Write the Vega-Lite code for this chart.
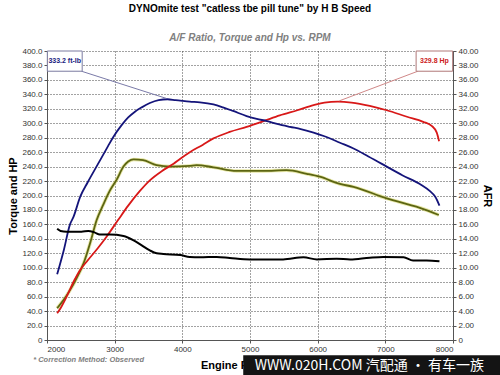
{
  "$schema": "https://vega.github.io/schema/vega-lite/v6.json",
  "width": 406,
  "height": 289,
  "autosize": "none",
  "padding": {"left": 47, "top": 51, "right": 47, "bottom": 35},
  "background": "white",
  "config": {
    "font": "Liberation Sans",
    "view": {"stroke": null},
    "axis": {
      "labelFont": "Liberation Sans",
      "labelFontSize": 8,
      "labelColor": "#333333",
      "labelOverlap": false,
      "domainColor": "#555555",
      "tickColor": "#555555",
      "tickSize": 3,
      "titleFont": "Liberation Sans",
      "titleFontSize": 11,
      "titleFontWeight": "bold",
      "titleColor": "#000000",
      "gridColor": "#444444",
      "gridDash": [1, 2],
      "gridWidth": 1,
      "gridOpacity": 1
    },
    "axisX": {"tickCount": 12, "labelOverlap": false, "labelBound": false}
  },
  "title": {
    "text": "DYNOmite test \"catless tbe pill tune\" by H B Speed",
    "subtitle": "A/F Ratio, Torque and Hp vs. RPM",
    "anchor": "middle",
    "frame": "group",
    "font": "Liberation Sans",
    "fontSize": 10,
    "fontWeight": "bold",
    "color": "#000000",
    "subtitleFont": "Liberation Sans",
    "subtitleFontSize": 10,
    "subtitleFontWeight": "bold",
    "subtitleFontStyle": "italic",
    "subtitleColor": "#808080",
    "subtitlePadding": 19,
    "offset": 4
  },
  "datasets": {
    "curves": [
      {"series": "TQ", "rpm": 2150, "value": 91},
      {"series": "TQ", "rpm": 2250, "value": 125},
      {"series": "TQ", "rpm": 2340, "value": 160},
      {"series": "TQ", "rpm": 2390, "value": 170},
      {"series": "TQ", "rpm": 2490, "value": 198},
      {"series": "TQ", "rpm": 2600, "value": 218},
      {"series": "TQ", "rpm": 2750, "value": 243},
      {"series": "TQ", "rpm": 2900, "value": 268},
      {"series": "TQ", "rpm": 2980, "value": 281},
      {"series": "TQ", "rpm": 3100, "value": 297},
      {"series": "TQ", "rpm": 3200, "value": 308},
      {"series": "TQ", "rpm": 3300, "value": 316},
      {"series": "TQ", "rpm": 3400, "value": 322},
      {"series": "TQ", "rpm": 3520, "value": 328},
      {"series": "TQ", "rpm": 3650, "value": 332},
      {"series": "TQ", "rpm": 3780, "value": 333.2},
      {"series": "TQ", "rpm": 3900, "value": 332},
      {"series": "TQ", "rpm": 4000, "value": 331},
      {"series": "TQ", "rpm": 4110, "value": 330},
      {"series": "TQ", "rpm": 4260, "value": 329},
      {"series": "TQ", "rpm": 4460, "value": 326},
      {"series": "TQ", "rpm": 4600, "value": 322},
      {"series": "TQ", "rpm": 4750, "value": 317},
      {"series": "TQ", "rpm": 4950, "value": 310},
      {"series": "TQ", "rpm": 5100, "value": 306},
      {"series": "TQ", "rpm": 5250, "value": 303},
      {"series": "TQ", "rpm": 5400, "value": 299},
      {"series": "TQ", "rpm": 5590, "value": 295},
      {"series": "TQ", "rpm": 5750, "value": 292},
      {"series": "TQ", "rpm": 5940, "value": 287},
      {"series": "TQ", "rpm": 6100, "value": 282},
      {"series": "TQ", "rpm": 6330, "value": 273},
      {"series": "TQ", "rpm": 6530, "value": 265},
      {"series": "TQ", "rpm": 6750, "value": 254},
      {"series": "TQ", "rpm": 7020, "value": 240},
      {"series": "TQ", "rpm": 7250, "value": 228},
      {"series": "TQ", "rpm": 7510, "value": 216},
      {"series": "TQ", "rpm": 7660, "value": 206},
      {"series": "TQ", "rpm": 7740, "value": 198},
      {"series": "TQ", "rpm": 7800, "value": 186},

      {"series": "HP", "rpm": 2150, "value": 37},
      {"series": "HP", "rpm": 2200, "value": 44},
      {"series": "HP", "rpm": 2300, "value": 62},
      {"series": "HP", "rpm": 2400, "value": 82},
      {"series": "HP", "rpm": 2490, "value": 97},
      {"series": "HP", "rpm": 2600, "value": 110},
      {"series": "HP", "rpm": 2750, "value": 127},
      {"series": "HP", "rpm": 2880, "value": 143},
      {"series": "HP", "rpm": 3050, "value": 166},
      {"series": "HP", "rpm": 3200, "value": 186},
      {"series": "HP", "rpm": 3370, "value": 206},
      {"series": "HP", "rpm": 3520, "value": 221},
      {"series": "HP", "rpm": 3700, "value": 234},
      {"series": "HP", "rpm": 3870, "value": 244},
      {"series": "HP", "rpm": 3970, "value": 251},
      {"series": "HP", "rpm": 4110, "value": 260},
      {"series": "HP", "rpm": 4300, "value": 270},
      {"series": "HP", "rpm": 4460, "value": 279},
      {"series": "HP", "rpm": 4700, "value": 288},
      {"series": "HP", "rpm": 4950, "value": 295},
      {"series": "HP", "rpm": 5200, "value": 303},
      {"series": "HP", "rpm": 5440, "value": 311},
      {"series": "HP", "rpm": 5700, "value": 318},
      {"series": "HP", "rpm": 5940, "value": 325},
      {"series": "HP", "rpm": 6100, "value": 328.5},
      {"series": "HP", "rpm": 6300, "value": 329.8},
      {"series": "HP", "rpm": 6500, "value": 328.5},
      {"series": "HP", "rpm": 6770, "value": 324},
      {"series": "HP", "rpm": 7020, "value": 318},
      {"series": "HP", "rpm": 7320, "value": 309},
      {"series": "HP", "rpm": 7560, "value": 302},
      {"series": "HP", "rpm": 7690, "value": 296},
      {"series": "HP", "rpm": 7760, "value": 287},
      {"series": "HP", "rpm": 7795, "value": 275},

      {"series": "G", "rpm": 2150, "value": 44},
      {"series": "G", "rpm": 2250, "value": 56},
      {"series": "G", "rpm": 2340, "value": 69},
      {"series": "G", "rpm": 2440, "value": 86},
      {"series": "G", "rpm": 2540, "value": 106},
      {"series": "G", "rpm": 2640, "value": 135},
      {"series": "G", "rpm": 2734, "value": 166},
      {"series": "G", "rpm": 2830, "value": 187},
      {"series": "G", "rpm": 2931, "value": 207},
      {"series": "G", "rpm": 3030, "value": 222},
      {"series": "G", "rpm": 3130, "value": 240},
      {"series": "G", "rpm": 3200, "value": 247},
      {"series": "G", "rpm": 3280, "value": 250},
      {"series": "G", "rpm": 3420, "value": 249},
      {"series": "G", "rpm": 3620, "value": 242},
      {"series": "G", "rpm": 3820, "value": 240},
      {"series": "G", "rpm": 4110, "value": 241},
      {"series": "G", "rpm": 4210, "value": 242},
      {"series": "G", "rpm": 4460, "value": 239},
      {"series": "G", "rpm": 4800, "value": 234},
      {"series": "G", "rpm": 5200, "value": 234},
      {"series": "G", "rpm": 5540, "value": 235},
      {"series": "G", "rpm": 5840, "value": 230},
      {"series": "G", "rpm": 6030, "value": 226},
      {"series": "G", "rpm": 6330, "value": 216},
      {"series": "G", "rpm": 6530, "value": 212},
      {"series": "G", "rpm": 7020, "value": 196},
      {"series": "G", "rpm": 7320, "value": 188},
      {"series": "G", "rpm": 7510, "value": 183},
      {"series": "G", "rpm": 7790, "value": 173}
    ],
    "afr": [
      {"rpm": 2150, "afr": 15.4},
      {"rpm": 2200, "afr": 15.1},
      {"rpm": 2290, "afr": 15.0},
      {"rpm": 2400, "afr": 15.0},
      {"rpm": 2510, "afr": 15.0},
      {"rpm": 2610, "afr": 15.1},
      {"rpm": 2700, "afr": 14.9},
      {"rpm": 2780, "afr": 14.6},
      {"rpm": 2930, "afr": 14.6},
      {"rpm": 3130, "afr": 14.4},
      {"rpm": 3280, "afr": 13.8},
      {"rpm": 3400, "afr": 13.1},
      {"rpm": 3520, "afr": 12.4},
      {"rpm": 3620, "afr": 12.0},
      {"rpm": 3720, "afr": 11.9},
      {"rpm": 3970, "afr": 11.75},
      {"rpm": 4110, "afr": 11.5},
      {"rpm": 4260, "afr": 11.45},
      {"rpm": 4510, "afr": 11.5},
      {"rpm": 4700, "afr": 11.35},
      {"rpm": 5000, "afr": 11.15},
      {"rpm": 5490, "afr": 11.15},
      {"rpm": 5790, "afr": 11.45},
      {"rpm": 5990, "afr": 11.15},
      {"rpm": 6280, "afr": 11.25},
      {"rpm": 6480, "afr": 11.15},
      {"rpm": 6770, "afr": 11.4},
      {"rpm": 6970, "afr": 11.5},
      {"rpm": 7270, "afr": 11.45},
      {"rpm": 7410, "afr": 11.0},
      {"rpm": 7610, "afr": 11.0},
      {"rpm": 7800, "afr": 10.9}
    ]
  },
  "layer": [
    {
      "data": {"name": "curves"},
      "encoding": {
        "x": {
          "field": "rpm",
          "type": "quantitative",
          "scale": {"domain": [2000, 8000], "nice": false},
          "axis": {
            "title": "Engine RPM (RPM)",
            "values": [2000, 2500, 3000, 3500, 4000, 4500, 5000, 5500, 6000, 6500, 7000, 7500, 8000],
            "tickCount": 12,
            "format": "d",
            "grid": true,
            "labelOverlap": false,
            "titlePadding": 6
          }
        },
        "y": {
          "field": "value",
          "type": "quantitative",
          "scale": {"domain": [0, 400], "nice": false},
          "axis": {
            "title": "Torque and HP",
            "values": [0, 20, 40, 60, 80, 100, 120, 140, 160, 180, 200, 220, 240, 260, 280, 300, 320, 340, 360, 380, 400],
            "labelExpr": "datum.value == 0 ? '0' : format(datum.value, '.1f')",
            "grid": true,
            "labelOverlap": false,
            "titlePadding": 3
          }
        }
      },
      "layer": [
        {
          "transform": [{"filter": "datum.series == 'G'"}],
          "mark": {"type": "line", "stroke": "#d6d66a", "strokeWidth": 3.5, "opacity": 0.6, "interpolate": "monotone"}
        },
        {
          "transform": [{"filter": "datum.series == 'G'"}],
          "mark": {"type": "line", "stroke": "#5c6512", "strokeWidth": 1.8, "interpolate": "monotone"}
        },
        {
          "transform": [{"filter": "datum.series == 'HP'"}],
          "mark": {"type": "line", "stroke": "#d81818", "strokeWidth": 1.8, "interpolate": "monotone"}
        },
        {
          "transform": [{"filter": "datum.series == 'TQ'"}],
          "mark": {"type": "line", "stroke": "#14147a", "strokeWidth": 1.8, "interpolate": "monotone"}
        },
        {
          "transform": [{"filter": "datum.series == 'TQ' && datum.rpm == 2150"}],
          "mark": {"type": "rule", "stroke": "#7a7aa8", "strokeWidth": 1},
          "encoding": {
            "x": {"datum": 2510},
            "y": {"datum": 372},
            "x2": {"datum": 3760},
            "y2": {"datum": 334.5}
          }
        },
        {
          "transform": [{"filter": "datum.series == 'TQ' && datum.rpm == 2150"}],
          "mark": {"type": "rule", "stroke": "#d08888", "strokeWidth": 1},
          "encoding": {
            "x": {"datum": 7480},
            "y": {"datum": 372},
            "x2": {"datum": 6320},
            "y2": {"datum": 331}
          }
        },
        {
          "transform": [{"filter": "datum.series == 'TQ' && datum.rpm == 2150"}],
          "mark": {"type": "rect", "fill": "white", "stroke": "#7a7aa0", "strokeWidth": 1},
          "encoding": {
            "x": {"datum": 2005},
            "x2": {"datum": 2520},
            "y": {"datum": 372},
            "y2": {"datum": 400}
          }
        },
        {
          "transform": [{"filter": "datum.series == 'TQ' && datum.rpm == 2150"}],
          "mark": {"type": "rect", "fill": "white", "stroke": "#b07878", "strokeWidth": 1},
          "encoding": {
            "x": {"datum": 7455},
            "x2": {"datum": 7995},
            "y": {"datum": 372},
            "y2": {"datum": 400}
          }
        },
        {
          "transform": [{"filter": "datum.series == 'TQ' && datum.rpm == 2150"}],
          "mark": {"type": "text", "text": "333.2 ft-lb", "color": "#1a1a80", "fontSize": 7, "fontWeight": "bold", "align": "center", "baseline": "middle"},
          "encoding": {"x": {"datum": 2262}, "y": {"datum": 386}}
        },
        {
          "transform": [{"filter": "datum.series == 'TQ' && datum.rpm == 2150"}],
          "mark": {"type": "text", "text": "329.8 Hp", "color": "#cc2020", "fontSize": 7, "fontWeight": "bold", "align": "center", "baseline": "middle"},
          "encoding": {"x": {"datum": 7725}, "y": {"datum": 386}}
        },
        {
          "transform": [{"filter": "datum.series == 'TQ' && datum.rpm == 2150"}],
          "mark": {"type": "text", "text": "* Correction Method: Observed", "color": "#808080", "fontSize": 7.5, "fontStyle": "italic", "fontWeight": "bold", "align": "left", "baseline": "middle"},
          "encoding": {"x": {"datum": 1795}, "y": {"datum": -27.5}}
        },
        {
          "transform": [{"filter": "datum.series == 'TQ' && datum.rpm == 2150"}],
          "mark": {"type": "rect", "fill": "#141414"},
          "encoding": {
            "x": {"datum": 4900},
            "x2": {"datum": 8700},
            "y": {"datum": -21},
            "y2": {"datum": -49}
          }
        },
        {
          "transform": [{"filter": "datum.series == 'TQ' && datum.rpm == 2150"}],
          "mark": {"type": "text", "text": "WWW.020H.COM 汽配通 • 有车一族", "color": "white", "fontSize": 14, "font": "Noto Sans CJK SC", "align": "left", "baseline": "middle"},
          "encoding": {"x": {"datum": 5070}, "y": {"datum": -36}}
        }
      ]
    },
    {
      "data": {"name": "afr"},
      "mark": {"type": "line", "stroke": "#000000", "strokeWidth": 2, "interpolate": "monotone"},
      "encoding": {
        "x": {
          "field": "rpm",
          "type": "quantitative",
          "scale": {"domain": [2000, 8000], "nice": false},
          "axis": {
            "title": "Engine RPM (RPM)",
            "values": [2000, 2500, 3000, 3500, 4000, 4500, 5000, 5500, 6000, 6500, 7000, 7500, 8000],
            "tickCount": 12,
            "format": "d",
            "grid": true,
            "labelOverlap": false,
            "titlePadding": 6
          }
        },
        "y": {
          "field": "afr",
          "type": "quantitative",
          "scale": {"domain": [0, 40], "nice": false},
          "axis": {
            "orient": "right",
            "title": "AFR",
            "titleAngle": 90,
            "values": [0, 2, 4, 6, 8, 10, 12, 14, 16, 18, 20, 22, 24, 26, 28, 30, 32, 34, 36, 38, 40],
            "labelExpr": "datum.value == 0 ? '0' : format(datum.value, '.2f')",
            "grid": false,
            "titlePadding": 3
          }
        }
      }
    }
  ],
  "resolve": {"scale": {"y": "independent"}}
}
